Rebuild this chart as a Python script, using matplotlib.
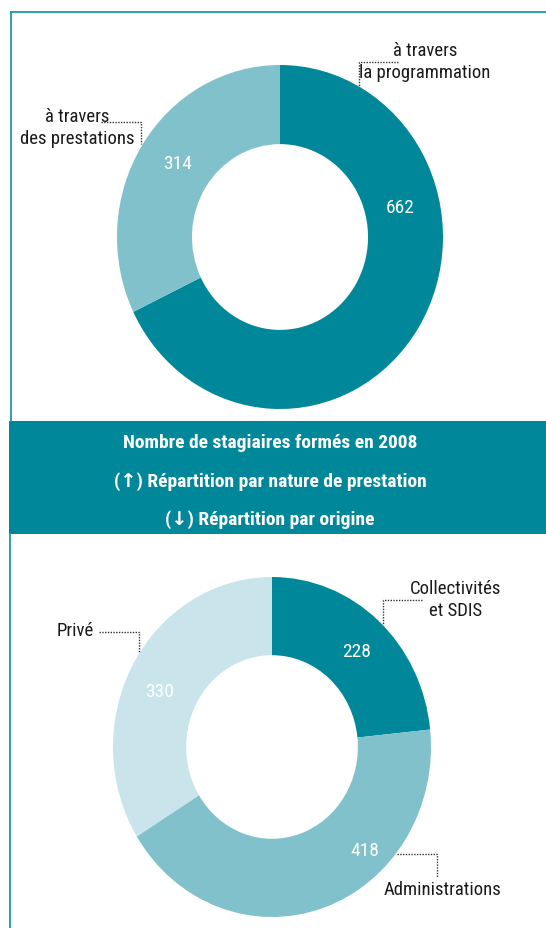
import matplotlib
matplotlib.use("Agg")
import matplotlib.pyplot as plt

# data
top_labels = ["à travers\nla programmation", "à travers\ndes prestations"]
top_values = [662, 314]
bottom_labels = ["Collectivités\net SDIS", "Administrations", "Privé"]
bottom_values = [228, 418, 330]
title_lines = ["Nombre de stagiaires formés en 2008",
               "(↑) Répartition par nature de prestation",
               "(↓) Répartition par origine"]

DARK = "#00889a"
MID = "#80c1cb"
LIGHT = "#c9e4ea"
LINE = "#1b9aaa"

W, H = 546, 929

plt.rcParams["font.family"] = ["Roboto Condensed", "DejaVu Sans"]

fig = plt.figure(figsize=(W / 100, H / 100), dpi=100)


def donut(values, colors, cx, cy, rx, ry):
    w, h = 2.5 * rx, 2.5 * ry
    ax = fig.add_axes([(cx - w / 2) / W, 1 - (cy + h / 2) / H, w / W, h / H])
    ax.pie(values, colors=colors, startangle=90, counterclock=False,
           wedgeprops=dict(width=0.46, linewidth=0))
    ax.set_aspect("auto")
    ax.set_xlim(-1.25, 1.25)
    ax.set_ylim(-1.25, 1.25)
    ax.axis("off")
    return ax


donut(top_values, [DARK, MID], 280, 238, 163, 172)
donut(bottom_values, [DARK, MID, LIGHT], 272, 748, 159, 170)

# overlay in pixel coordinates
ov = fig.add_axes([0, 0, 1, 1], zorder=5)
ov.set_xlim(0, W)
ov.set_ylim(H, 0)
ov.axis("off")
ov.patch.set_alpha(0)

# frame and band
ov.plot([11, W], [12.5, 12.5], color=LINE, lw=1.3)
ov.plot([11, 11], [12.5, 422], color=LINE, lw=1.3)
ov.plot([10, 10], [535, H], color=LINE, lw=1.3)
ov.add_patch(plt.Rectangle((9, 422), W - 9, 113, color=DARK, lw=0))
for line, y in zip(title_lines, [443, 482, 520]):
    ov.text(270, y, line, color="white", fontsize=14, fontweight="bold",
            ha="center", va="center")

# values
value_pos = [(400, 208), (178, 164), (357, 652), (365, 851), (160, 692)]
for v, (x, y) in zip(top_values + bottom_values, value_pos):
    ov.text(x, y, str(v), color="white", fontsize=14, ha="center", va="center")

# category labels
label_pos = [(425, 62), (77, 128), (456, 600), (443, 890), (75, 631)]
for lab, (x, y) in zip(top_labels + bottom_labels, label_pos):
    ov.text(x, y, lab, color="#1a1a1a", fontsize=13.5, ha="center", va="center",
            linespacing=1.25)

# dotted leaders
leaders = [
    [(398, 63), (359, 63), (359, 88)],
    [(101, 123), (141, 123), (141, 145)],
    [(422, 601), (383, 601), (383, 625)],
    [(397, 855), (437, 855), (437, 878)],
    [(99, 633), (139, 633), (139, 653)],
]
for pts in leaders:
    xs, ys = zip(*pts)
    ov.plot(xs, ys, color="#333333", lw=1, linestyle=(0, (1, 1)))

fig.savefig("out.png", dpi=100)
